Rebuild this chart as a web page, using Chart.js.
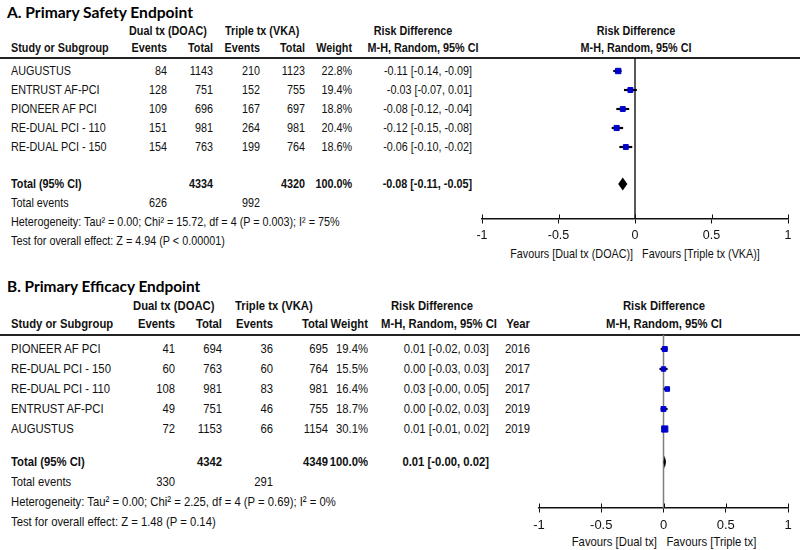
<!DOCTYPE html>
<html>
<head>
<meta charset="utf-8">
<script src="https://cdn.jsdelivr.net/npm/chart.js@4.4.1/dist/chart.umd.min.js"></script>
<style>
body{margin:0;background:#fff;}
#page{position:relative;width:800px;height:550px;overflow:hidden;font-family:'Liberation Sans',Arial,sans-serif;color:#111;}
.t{position:absolute;white-space:pre;line-height:16px;height:16px;z-index:1;}
.b{font-weight:bold;}
.title{font-family:Lato,'Open Sans',sans-serif;font-weight:bold;color:#000;transform:none !important;}
.rule{position:absolute;left:0;width:800px;height:0;border-top:2px solid #222;z-index:1;}
canvas{position:absolute;z-index:5;}
</style>
</head>
<body>
<div id="page">
  <canvas id="plotA"></canvas>
  <canvas id="plotB"></canvas>
</div>
<script>
// --- Data: A. Primary Safety Endpoint ---
const studiesA=['AUGUSTUS','ENTRUST AF-PCI','PIONEER AF PCI','RE-DUAL PCI - 110','RE-DUAL PCI - 150'];
const dualEventsA=[84,128,109,151,154];
const dualTotalA=[1143,751,696,981,763];
const tripleEventsA=[210,152,167,264,199];
const tripleTotalA=[1123,755,697,981,764];
const weightA=[22.8,19.4,18.8,20.4,18.6];
const rdA=[-0.11,-0.03,-0.08,-0.12,-0.06];
const lowA=[-0.14,-0.07,-0.12,-0.15,-0.10];
const highA=[-0.09,0.01,-0.04,-0.08,-0.02];
const totalsA=[4334,4320];          // dual, triple
const totalEventsA=[626,992];
const overallA=[-0.08,-0.11,-0.05];  // estimate, low, high
const hetA='Heterogeneity: Tau² = 0.00; Chi² = 15.72, df = 4 (P = 0.003); I² = 75%';
const testA='Test for overall effect: Z = 4.94 (P < 0.00001)';
const favoursA=['Favours [Dual tx (DOAC)]','Favours [Triple tx (VKA)]'];

// --- Data: B. Primary Efficacy Endpoint ---
const studiesB=['PIONEER AF PCI','RE-DUAL PCI - 150','RE-DUAL PCI - 110','ENTRUST AF-PCI','AUGUSTUS'];
const dualEventsB=[41,60,108,49,72];
const dualTotalB=[694,763,981,751,1153];
const tripleEventsB=[36,60,83,46,66];
const tripleTotalB=[695,764,981,755,1154];
const weightB=[19.4,15.5,16.4,18.7,30.1];
const rdB=[0.01,0.00,0.03,0.00,0.01];
const lowB=[-0.02,-0.03,-0.00,-0.02,-0.01];
const highB=[0.03,0.03,0.05,0.03,0.02];
const yearB=[2016,2017,2017,2019,2019];
const totalsB=[4342,4349];
const totalEventsB=[330,291];
const overallB=[0.01,-0.00,0.02];
const hetB='Heterogeneity: Tau² = 0.00; Chi² = 2.25, df = 4 (P = 0.69); I² = 0%';
const testB='Test for overall effect: Z = 1.48 (P = 0.14)';
const favoursB=['Favours [Dual tx]','Favours [Triple tx]'];

const xTicks=[-1,-0.5,0,0.5,1];
const NO_EFFECT=0;

// --- Helpers ---
const FONT="'Liberation Sans',Arial,sans-serif";
const NARROW=0.83;   // stands in for Arial Narrow
const page=document.getElementById('page');

function put(text,x,y,align,cls,size){
  const d=document.createElement('div');
  d.className='t'+(cls?' '+cls:'');
  d.textContent=text;
  d.style.top=(y-8)+'px';
  d.style.fontSize=size+'px';
  d.style.transform=`scaleX(${NARROW})`;
  if(align==='right'){ d.style.left=(x-300)+'px'; d.style.width='300px'; d.style.textAlign='right'; d.style.transformOrigin='right center'; }
  else if(align==='center'){ d.style.left=(x-200)+'px'; d.style.width='400px'; d.style.textAlign='center'; d.style.transformOrigin='center center'; }
  else { d.style.left=x+'px'; d.style.transformOrigin='left center'; }
  page.appendChild(d);
}
function rule(y){
  const d=document.createElement('div');
  d.className='rule'; d.style.top=(y-1)+'px';
  page.appendChild(d);
}
const fmt=v=>(Object.is(v,-0)?'-':'')+v.toFixed(2);
const ci=(r,l,h)=>`${fmt(r)} [${fmt(l)}, ${fmt(h)}]`;

// --- Panels (layout only) ---
const panelA={
  title:'A. Primary Safety Endpoint', studies:studiesA, dualEv:dualEventsA, dualTot:dualTotalA,
  triEv:tripleEventsA, triTot:tripleTotalA, weight:weightA, rd:rdA, low:lowA, high:highA,
  totals:totalsA, events:totalEventsA, overall:overallA, het:hetA, test:testA, favours:favoursA,
  fs:13, titleFs:15.6, tickFs:12.5,
  titleY:12, h1Y:31, h2Y:48, lineY:58, row0:71, rowH:19, totalY:184, axisY:219, favY:254,
  col:{study:11, dualHdr:129, triHdr:225, dualEv:167, dualTot:213, triEv:260, triTot:305, weight:352, rdHdr:413, mhHdr:423, ci:472},
  plotLeft:470, axisLeft:482, plotHdr:636, zeroColor:'#000', zeroWidth:1.3
};
const panelB={
  title:'B. Primary Efficacy Endpoint', studies:studiesB, dualEv:dualEventsB, dualTot:dualTotalB,
  triEv:tripleEventsB, triTot:tripleTotalB, weight:weightB, rd:rdB, low:lowB, high:highB, year:yearB,
  totals:totalsB, events:totalEventsB, overall:overallB, het:hetB, test:testB, favours:favoursB,
  fs:13.6, titleFs:15.4, tickFs:13,
  titleY:286, h1Y:306, h2Y:324, lineY:335, row0:349, rowH:20, totalY:462, axisY:508, favY:542,
  col:{study:11, dualHdr:133, triHdr:235, dualEv:175, dualTot:222, triEv:273, triTot:328, weight:368, rdHdr:432, mhHdr:439, ci:489, year:530},
  plotLeft:520, axisLeft:539, plotHdr:664, zeroColor:'#7f7f7f', zeroWidth:1.5
};

function table(p){
  const c=p.col, f=p.fs;
  put(p.title,7,p.titleY,'left','title',p.titleFs);
  put('Dual tx (DOAC)',c.dualHdr,p.h1Y,'left','b',f);
  put('Triple tx (VKA)',c.triHdr,p.h1Y,'left','b',f);
  put('Risk Difference',c.rdHdr,p.h1Y,'center','b',f);
  put('Risk Difference',p.plotHdr,p.h1Y,'center','b',f);
  put('Study or Subgroup',c.study,p.h2Y,'left','b',f);
  put('Events',c.dualEv,p.h2Y,'right','b',f);
  put('Total',c.dualTot,p.h2Y,'right','b',f);
  put('Events',c.triEv,p.h2Y,'right','b',f);
  put('Total',c.triTot,p.h2Y,'right','b',f);
  put('Weight',c.weight,p.h2Y,'right','b',f);
  put('M-H, Random, 95% CI',c.mhHdr,p.h2Y,'center','b',f);
  if(p.year) put('Year',c.year,p.h2Y,'right','b',f);
  put('M-H, Random, 95% CI',p.plotHdr,p.h2Y,'center','b',f);
  rule(p.lineY);
  p.studies.forEach((s,i)=>{
    const y=p.row0+i*p.rowH;
    put(s,c.study,y,'left','',f);
    put(String(p.dualEv[i]),c.dualEv,y,'right','',f);
    put(String(p.dualTot[i]),c.dualTot,y,'right','',f);
    put(String(p.triEv[i]),c.triEv,y,'right','',f);
    put(String(p.triTot[i]),c.triTot,y,'right','',f);
    put(p.weight[i].toFixed(1)+'%',c.weight,y,'right','',f);
    put(ci(p.rd[i],p.low[i],p.high[i]),c.ci,y,'right','',f);
    if(p.year) put(String(p.year[i]),c.year,y,'right','',f);
  });
  const ty=p.totalY, sw=p.weight.reduce((a,b)=>a+b,0);
  put('Total (95% CI)',c.study,ty,'left','b',f);
  put(String(p.totals[0]),c.dualTot,ty,'right','b',f);
  put(String(p.totals[1]),c.triTot,ty,'right','b',f);
  put(Math.round(sw).toFixed(1)+'%',c.weight,ty,'right','b',f);
  put(ci(...p.overall),c.ci,ty,'right','b',f);
  put('Total events',c.study,ty+p.rowH,'left','',f);
  put(String(p.events[0]),c.dualEv,ty+p.rowH,'right','',f);
  put(String(p.events[1]),c.triEv,ty+p.rowH,'right','',f);
  put(p.het,c.study,ty+2*p.rowH,'left','',f);
  put(p.test,c.study,ty+3*p.rowH,'left','',f);
}

// --- Pooled diamond, upper half of the axis ticks ---
const forestExtras={
  id:'forest',
  afterDraw(chart,args,o){
    const {ctx,scales:{x,y}}=chart;
    const yc=y.getPixelForValue(o.row), h=6.5;
    ctx.save();
    ctx.fillStyle='#000';
    ctx.beginPath();
    ctx.moveTo(x.getPixelForValue(o.low),yc);
    ctx.lineTo(x.getPixelForValue(o.est),yc-h);
    ctx.lineTo(x.getPixelForValue(o.high),yc);
    ctx.lineTo(x.getPixelForValue(o.est),yc+h);
    ctx.closePath(); ctx.fill();
    ctx.strokeStyle='#111'; ctx.lineWidth=1;
    x.ticks.forEach(t=>{
      const px=Math.round(x.getPixelForValue(t.value))+0.5;
      ctx.beginPath(); ctx.moveTo(px,y.bottom); ctx.lineTo(px,y.bottom-4.5); ctx.stroke();
    });
    ctx.restore();
  }
};

function forestPlot(id,p){
  const cv=document.getElementById(id);
  const axisH=42, padTop=8;
  cv.width=800-p.plotLeft; cv.height=p.axisY-p.lineY+padTop+axisH;
  cv.style.left=p.plotLeft+'px'; cv.style.top=(p.lineY-padTop)+'px';
  const toIdx=y=>(y-p.row0)/p.rowH;
  const rows=p.studies.map((_,i)=>i);
  const yMin=toIdx(p.lineY), yMax=toIdx(p.axisY);
  const chart=new Chart(cv,{
    type:'bar',
    data:{datasets:[
      {type:'scatter',order:0,data:rows.map(i=>({x:p.rd[i],y:i})),pointStyle:'rect',
        pointRadius:c=>Math.sqrt(p.weight[c.dataIndex])*0.8,
        backgroundColor:'#0000cc',borderColor:'#0000cc',borderWidth:1},
      {type:'bar',order:1,indexAxis:'y',data:rows.map(i=>({y:i,x:[p.low[i],p.high[i]]})),
        backgroundColor:'#000',barThickness:1.5},
      // line of no effect
      {type:'line',order:2,data:[{x:NO_EFFECT,y:yMin},{x:NO_EFFECT,y:yMax}],
        borderColor:p.zeroColor,borderWidth:p.zeroWidth,pointRadius:0}
    ]},
    options:{
      responsive:false, animation:false, devicePixelRatio:1,
      layout:{padding:{left:p.axisLeft-p.plotLeft,right:12,top:padTop,bottom:0}},
      plugins:{legend:{display:false},tooltip:{enabled:false},
        forest:{row:toIdx(p.totalY),est:p.overall[0],low:p.overall[1],high:p.overall[2]}},
      scales:{
        x:{type:'linear',min:-1,max:1,offset:false,
          afterBuildTicks:s=>{ s.ticks=xTicks.map(v=>({value:v})); },
          afterFit:s=>{ s.height=axisH; },
          ticks:{callback:v=>String(v),color:'#111',font:{family:FONT,size:p.tickFs},padding:5,maxRotation:0,autoSkip:false},
          grid:{offset:false,drawOnChartArea:false,tickColor:'#111',tickLength:4.5},
          border:{color:'#111',width:1.5}
        },
        y:{type:'linear',display:false,offset:false,reverse:true,min:yMin,max:yMax}
      }
    },
    plugins:[forestExtras]
  });
  // "Favours" caption centred under the axis
  const xs=chart.scales.x;
  put(p.favours.join('   '),p.plotLeft+(xs.left+xs.right)/2,p.favY,'center','',p.fs);
}

table(panelA); table(panelB);
forestPlot('plotA',panelA);
forestPlot('plotB',panelB);
</script>
</body>
</html>
